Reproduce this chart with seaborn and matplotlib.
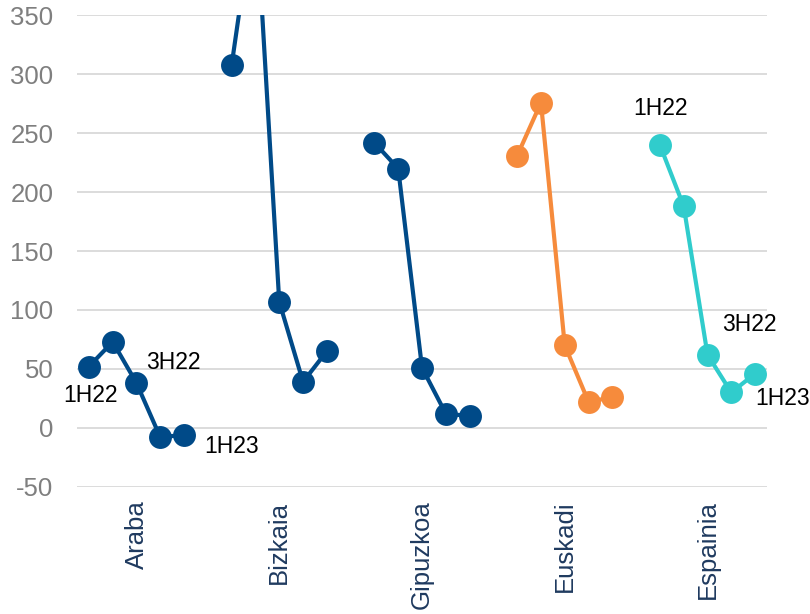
import matplotlib
matplotlib.use("Agg")
import matplotlib.pyplot as plt
import seaborn as sns
import pandas as pd

regions = ["Araba", "Bizkaia", "Gipuzkoa", "Euskadi", "Espainia"]
periods = ["1H22", "2H22", "3H22", "4H22", "1H23"]
araba = [52, 73, 38, -8, -6]
bizkaia = [308, 448, 107, 39, 65]
gipuzkoa = [242, 220, 51, 12, 10]
euskadi = [231, 276, 70, 22, 26]
espainia = [240, 188, 62, 30, 46]
region_colors = ["#004A88", "#004A88", "#004A88", "#F68B3C", "#30CCCC"]

series = [araba, bizkaia, gipuzkoa, euskadi, espainia]
rows = []
for gi, (reg, vals) in enumerate(zip(regions, series)):
    for pi, (per, v) in enumerate(zip(periods, vals)):
        rows.append({"region": reg, "period": per, "value": v, "slot": gi * 6 + pi})
df = pd.DataFrame(rows)

sns.set_theme(style="white")
plt.rcParams["font.family"] = ["Liberation Sans", "DejaVu Sans"]
plt.rcParams["axes.unicode_minus"] = False

fig = plt.figure(figsize=(8.1, 6.14), dpi=100)
ax = fig.add_axes([77 / 810, 1 - 486.7 / 614, 690 / 810, 471.2 / 614])

sns.lineplot(data=df, x="slot", y="value", hue="region", hue_order=regions,
             palette=dict(zip(regions, region_colors)), marker="o",
             markersize=16.5, markeredgewidth=0, linewidth=3.0,
             legend=False, ax=ax, estimator=None, sort=True)

ax.set_xlim(-0.5, 28.5)
ax.set_ylim(-50, 350)
ax.set_yticks(range(-50, 351, 50))
ax.yaxis.grid(True, color="#D9D9D9", linewidth=1.3)
ax.set_axisbelow(True)
for s in ax.spines.values():
    s.set_visible(False)
ax.set_xlabel("")
ax.set_ylabel("")
ax.set_xticks([gi * 6 + 2 for gi in range(len(regions))])
ax.set_xticklabels(regions, rotation=90, fontsize=18.5, color="#1F3A5F")
ax.tick_params(axis="y", labelsize=18.5, colors="#7F7F7F", length=0, pad=17)
ax.tick_params(axis="x", length=0, pad=10)
for lbl in ax.get_yticklabels():
    lbl.set_horizontalalignment("right")

# period labels on the first and last groups
def tag(gi, pi, text, dx, dy):
    v = series[gi][pi]
    ax.annotate(text, xy=(gi * 6 + pi, v), xytext=(dx, dy),
                textcoords="offset pixels", ha="center", va="center",
                fontsize=16.5, color="#000000")

tag(0, 0, "1H22", 2, -29)
tag(0, 2, "3H22", 37, 21)
tag(0, 4, "1H23", 47, -12)
tag(4, 0, "1H22", 1, 37)
tag(4, 2, "3H22", 42, 30)
tag(4, 4, "1H23", 27, -25)

fig.savefig("out.png", dpi=100)
